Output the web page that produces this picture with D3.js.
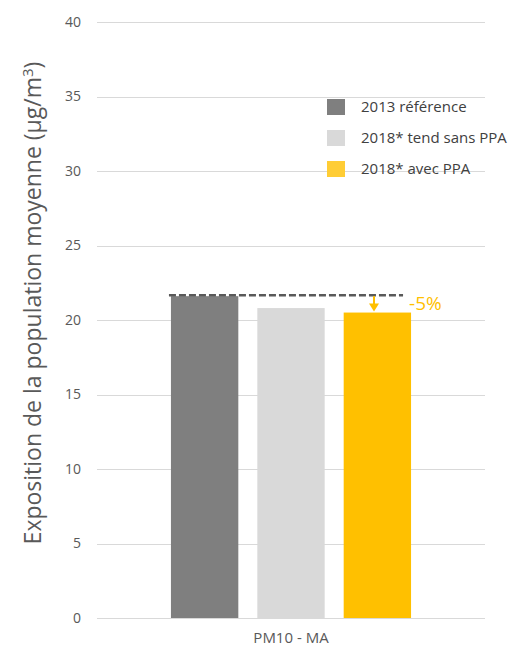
<!DOCTYPE html>
<html>
<head>
<meta charset="utf-8">
<script src="https://cdn.jsdelivr.net/npm/d3@7"></script>
<style>
  body { margin: 0; background: #fff; }
  text { font-family: "Open Sans", sans-serif; }
</style>
</head>
<body>
<script>
// exposition moyenne PM10, 2013 vs 2018

var categories = ["PM10 - MA"];
var series = ["2013 référence", "2018* tend sans PPA", "2018* avec PPA"];
var values = [21.6, 20.8, 20.5];
var barColors = ["#7f7f7f", "#d9d9d9", "#ffc000"];
var legendColors = ["#7f7f7f", "#d9d9d9", "#ffcd35"];
var yTicks = [0, 5, 10, 15, 20, 25, 30, 35, 40];
var changeLabel = "-5%";

var margin = {top: 22, right: 30, bottom: 31, left: 97},
    width = 515 - margin.left - margin.right,
    height = 649 - margin.top - margin.bottom;

var svg = d3.select("body").append("svg")
    .attr("width", width + margin.left + margin.right)
    .attr("height", height + margin.top + margin.bottom);

var g = svg.append("g")
    .attr("transform", "translate(" + margin.left + "," + margin.top + ")");

var y = d3.scaleLinear().domain([0, 40]).range([height, 0]);

var x0 = d3.scaleBand().domain(categories).range([0, width]).paddingInner(0).paddingOuter(0.308);
var x1 = d3.scaleBand().domain(series).range([0, x0.bandwidth()]).paddingInner(0.22).paddingOuter(0);

// gridlines
g.selectAll(".grid")
  .data(yTicks)
  .enter().append("line")
    .attr("x1", 0)
    .attr("x2", width)
    .attr("y1", function(d) { return Math.round(y(d)) + 0.5; })
    .attr("y2", function(d) { return Math.round(y(d)) + 0.5; })
    .style("stroke", "#d9d9d9")
    .style("stroke-width", 1);

// y tick labels
g.selectAll(".ylab")
  .data(yTicks)
  .enter().append("text")
    .attr("x", -16)
    .attr("y", function(d) { return y(d); })
    .attr("dy", "0.35em")
    .attr("text-anchor", "end")
    .style("font-size", "14px")
    .style("fill", "#595959")
    .text(function(d) { return d; });

// bars
var cat = g.selectAll(".cat")
  .data(categories)
  .enter().append("g")
    .attr("transform", function(d) { return "translate(" + x0(d) + ",0)"; });

cat.selectAll("rect")
  .data(series)
  .enter().append("rect")
    .attr("x", function(d) { return x1(d); })
    .attr("width", x1.bandwidth())
    .attr("y", function(d, i) { return y(values[i]); })
    .attr("height", function(d, i) { return height - y(values[i]); })
    .style("fill", function(d, i) { return barColors[i]; });

// x axis line + label
g.append("line")
    .attr("x1", 0).attr("x2", width)
    .attr("y1", height + 0.5).attr("y2", height + 0.5)
    .style("stroke", "#d9d9d9");

g.selectAll(".xlab")
  .data(categories)
  .enter().append("text")
    .attr("x", function(d) { return x0(d) + x0.bandwidth() / 2; })
    .attr("y", height + 25)
    .attr("text-anchor", "middle")
    .style("font-size", "15px")
    .style("fill", "#595959")
    .text(function(d) { return d; });

// reference dashed line at 2013 level
var refY = y(values[0]);
var x0start = x0(categories[0]);
g.append("line")
    .attr("x1", x0start + x1(series[0]) - 2)
    .attr("x2", x0start + x1(series[2]) + x1.bandwidth() - 8)
    .attr("y1", refY - 1)
    .attr("y2", refY - 1)
    .style("stroke", "#595959")
    .style("stroke-width", 2.5)
    .style("stroke-dasharray", "7,3");

// arrow down to avec PPA
var ax = x0start + x1(series[2]) + x1.bandwidth() * 0.45;
var arrowEnd = y(values[2]);
g.append("line")
    .attr("x1", ax).attr("x2", ax)
    .attr("y1", refY)
    .attr("y2", arrowEnd - 7)
    .style("stroke", "#ffc000")
    .style("stroke-width", 2);
g.append("path")
    .attr("d", "M" + (ax - 5) + "," + (arrowEnd - 9) + "L" + (ax + 5) + "," + (arrowEnd - 9) + "L" + ax + "," + (arrowEnd - 1) + "Z")
    .style("fill", "#ffc000");

g.append("text")
    .attr("x", x0start + x1(series[2]) + x1.bandwidth() - 2)
    .attr("y", refY + 14)
    .style("font-size", "19px")
    .style("fill", "#ffc000")
    .text(changeLabel);

// legend
var legend = svg.selectAll(".legend")
  .data(series)
  .enter().append("g")
    .attr("transform", function(d, i) { return "translate(327," + (99 + i * 31) + ")"; });

legend.append("rect")
    .attr("width", 18)
    .attr("height", 16)
    .style("fill", function(d, i) { return legendColors[i]; });

legend.append("text")
    .attr("x", 34)
    .attr("y", 8)
    .attr("dy", "0.35em")
    .style("font-size", "15px")
    .style("fill", "#404040")
    .text(function(d) { return d; });

// y axis title
var title = svg.append("text")
    .attr("transform", "translate(41,303) rotate(-90)")
    .attr("text-anchor", "middle")
    .style("font-size", "23px")
    .style("fill", "#595959");
title.append("tspan").text("Exposition de la population moyenne (µg/m");
title.append("tspan").attr("dy", "-8").style("font-size", "15px").text("3");
title.append("tspan").attr("dy", "8").text(")");
</script>
</body>
</html>
